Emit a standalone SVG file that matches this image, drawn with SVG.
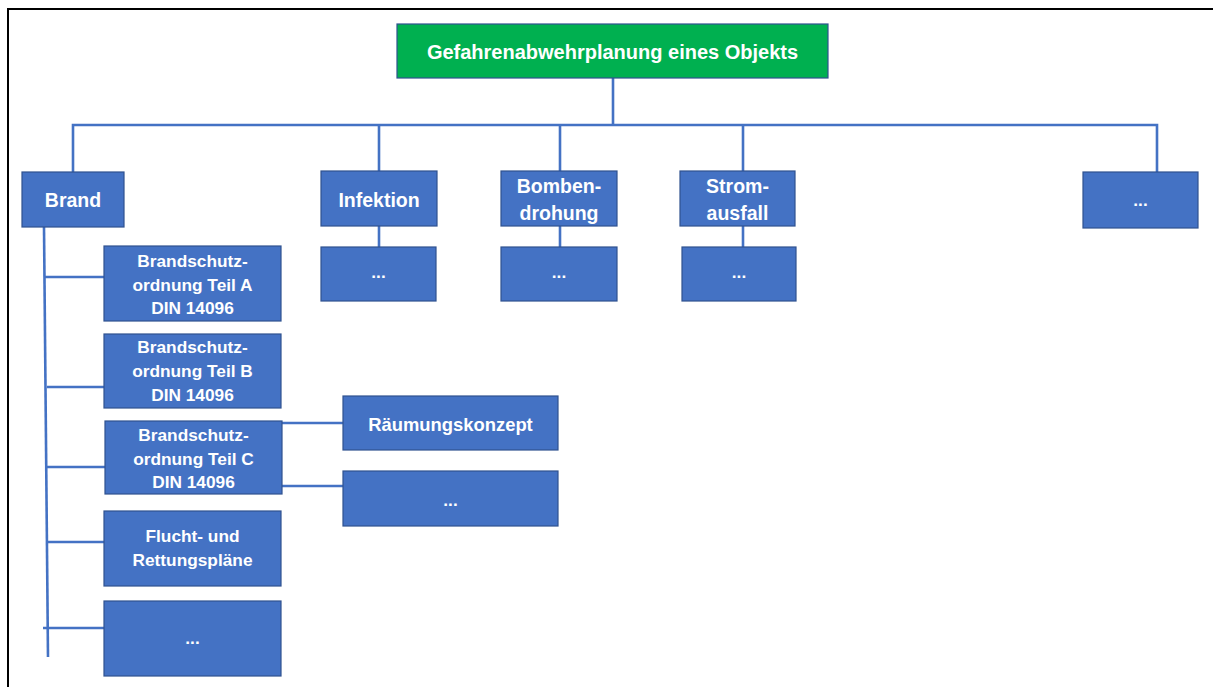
<svg xmlns="http://www.w3.org/2000/svg" width="1213" height="687" viewBox="0 0 1213 687">
<style>
.box{fill:#4472C4;stroke:#2F528F;stroke-width:1.2}
.green{fill:#00B050;stroke:#2F528F;stroke-width:1.2}
.t{font-family:"Liberation Sans",Arial,sans-serif;font-weight:bold;fill:#FFFFFF;text-anchor:middle}
.t20{font-size:20px}
.t19{font-size:19.5px}
.t18{font-size:18.4px}
.t17{font-size:17.3px}
.con{stroke:#4472C4;stroke-width:2.6;fill:none}
.frame{stroke:#000000;stroke-width:2;fill:none}
</style>
<rect width="1213" height="687" fill="#FFFFFF"/>
<path class="frame" d="M8,687 V9 H1213"/>
<g id="connectors">
<path class="con" d="M613,78 V125"/>
<path class="con" d="M73,172 V125 H1157 V172"/>
<path class="con" d="M379,125 V172"/>
<path class="con" d="M560,125 V172"/>
<path class="con" d="M743,125 V172"/>
<path class="con" d="M379,226 V247"/>
<path class="con" d="M560,226 V247"/>
<path class="con" d="M743,226 V247"/>
<path class="con" d="M44,227 L48,657"/>
<path class="con" d="M44,277 H104"/>
<path class="con" d="M47,387 H104"/>
<path class="con" d="M47,467 H105"/>
<path class="con" d="M48,542 H104"/>
<path class="con" d="M43,628 H104"/>
<path class="con" d="M281,423 H343"/>
<path class="con" d="M281,486 H343"/>
</g>
<g id="n-root">
<rect class="green" x="397" y="24" width="431" height="54"/>
<text class="t t20" x="612.5" y="59">Gefahrenabwehrplanung eines Objekts</text>
</g>
<g id="n-brand">
<rect class="box" x="22" y="172" width="102" height="55"/>
<text class="t t19" x="73" y="207">Brand</text>
</g>
<g id="n-infektion">
<rect class="box" x="321" y="171" width="116" height="55"/>
<text class="t t19" x="379" y="207">Infektion</text>
</g>
<g id="n-bomben">
<rect class="box" x="501" y="171" width="116" height="55"/>
<text class="t t19" x="559" y="193">Bomben-</text>
<text class="t t19" x="559" y="220">drohung</text>
</g>
<g id="n-strom">
<rect class="box" x="680" y="171" width="115" height="55"/>
<text class="t t19" x="737.5" y="193">Strom-</text>
<text class="t t19" x="737.5" y="220">ausfall</text>
</g>
<g id="n-more-top">
<rect class="box" x="1083" y="172" width="115" height="56"/>
<text class="t t17" x="1140.5" y="206">...</text>
</g>
<g id="n-infektion-sub">
<rect class="box" x="321" y="247" width="115" height="54"/>
<text class="t t17" x="378.5" y="278">...</text>
</g>
<g id="n-bomben-sub">
<rect class="box" x="501" y="247" width="116" height="54"/>
<text class="t t17" x="559" y="278">...</text>
</g>
<g id="n-strom-sub">
<rect class="box" x="682" y="247" width="114" height="54"/>
<text class="t t17" x="739" y="278">...</text>
</g>
<g id="n-bso-a">
<rect class="box" x="104" y="246" width="177" height="75"/>
<text class="t t17" x="192.5" y="267">Brandschutz-</text>
<text class="t t17" x="192.5" y="291">ordnung Teil A</text>
<text class="t t17" x="192.5" y="314">DIN 14096</text>
</g>
<g id="n-bso-b">
<rect class="box" x="104" y="334" width="177" height="74"/>
<text class="t t17" x="192.5" y="353">Brandschutz-</text>
<text class="t t17" x="192.5" y="377">ordnung Teil B</text>
<text class="t t17" x="192.5" y="401">DIN 14096</text>
</g>
<g id="n-bso-c">
<rect class="box" x="105" y="421" width="177" height="73"/>
<text class="t t17" x="193.5" y="441">Brandschutz-</text>
<text class="t t17" x="193.5" y="465">ordnung Teil C</text>
<text class="t t17" x="193.5" y="488">DIN 14096</text>
</g>
<g id="n-flucht">
<rect class="box" x="104" y="511" width="177" height="75"/>
<text class="t t17" x="192.5" y="542">Flucht- und</text>
<text class="t t17" x="192.5" y="566">Rettungspläne</text>
</g>
<g id="n-brand-more">
<rect class="box" x="104" y="601" width="177" height="75"/>
<text class="t t17" x="192.5" y="644">...</text>
</g>
<g id="n-raeumung">
<rect class="box" x="343" y="396" width="215" height="54"/>
<text class="t t18" x="450.5" y="431">Räumungskonzept</text>
</g>
<g id="n-c-more">
<rect class="box" x="343" y="471" width="215" height="55"/>
<text class="t t17" x="450.5" y="506">...</text>
</g>
</svg>
